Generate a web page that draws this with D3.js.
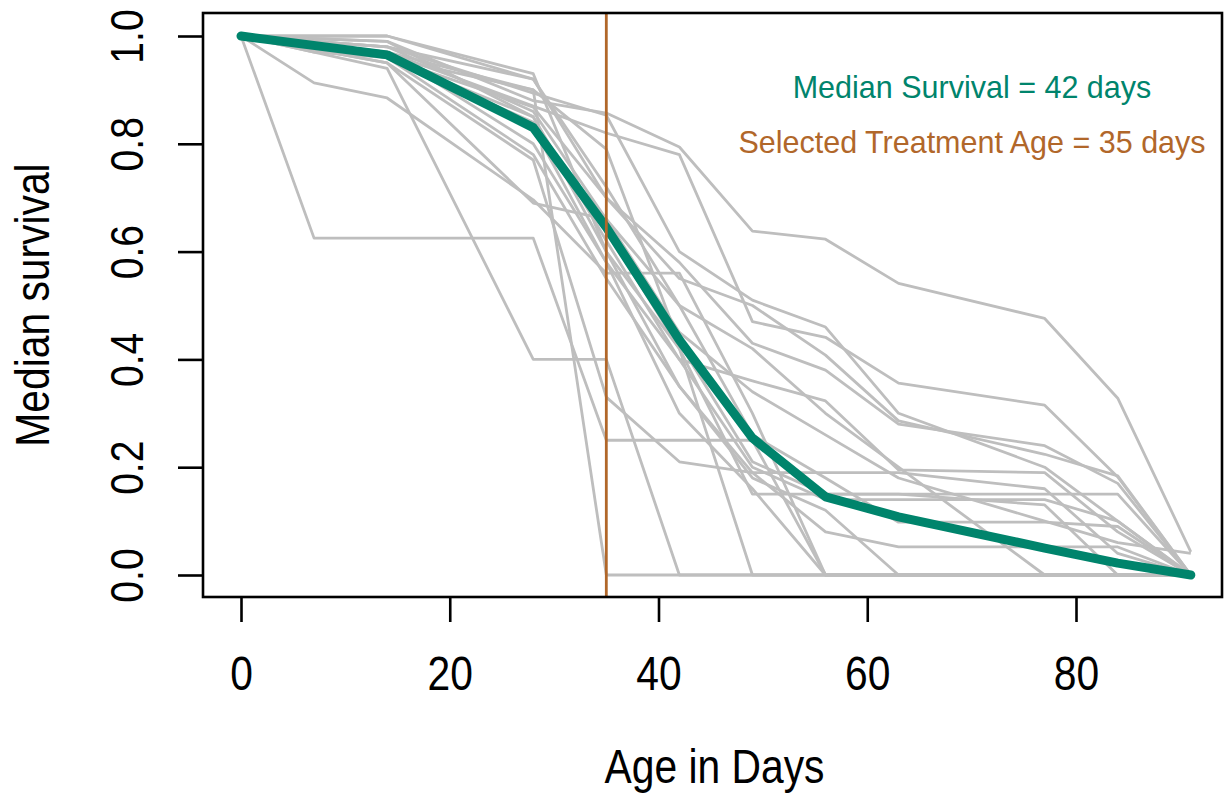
<!DOCTYPE html>
<html>
<head>
<meta charset="utf-8">
<script src="https://cdn.jsdelivr.net/npm/d3@7"></script>
<style>
  html, body { margin: 0; padding: 0; background: #fff; }
  svg { display: block; }
  text { font-family: "Liberation Sans", Arial, Helvetica, sans-serif; }
</style>
</head>
<body>
<svg id="chart" width="1227" height="793"></svg>
<script>
// ---- data ----
const days = [0, 7, 14, 28, 35, 42, 49, 56, 63, 77, 84, 91];

// individual cohort survival curves (null = no observation on that day)
const cohort01 = [1, null, 0.99, 0.88, 0.857, 0.794, 0.638, 0.623, 0.541, 0.476, 0.328, 0.043];
const cohort02 = [1, null, 0.97, 0.87, 0.82, 0.78, 0.47, 0.441, 0.356, 0.315, 0.182, 0];
const cohort03 = [1, null, 0.98, 0.92, 0.70, 0.55, 0.50, 0.408, 0.286, 0.224, 0.184, 0];
const cohort04 = [1, null, 0.96, 0.85, 0.62, 0.40, 0.36, 0.323, 0.195, 0.19, 0.08, 0];
const cohort05 = [1, null, 1.0, 0.93, 0.60, 0.42, 0.15, 0.15, 0.15, 0.15, 0.15, 0];
const cohort06 = [1, null, 0.97, 0.80, 0.58, 0.40, 0.20, 0.14, 0.14, 0.14, 0.10, 0];
const cohort07 = [1, null, 0.96, 0.78, 0.55, 0.35, 0.19, 0.08, 0.052, 0.052, 0.052, 0];
const cohort08 = [1, null, 0.98, 0.86, 0.66, 0.50, 0.26, 0.18, 0.098, 0.098, 0.09, 0];
const cohort09 = [1, 0.625, 0.625, 0.625, 0.25, 0.25, 0.25, 0, 0, 0, 0, 0];
const cohort10 = [1, null, 0.94, 0.40, 0.40, 0, 0, 0, 0, 0, 0, 0];
const cohort11 = [1, 0.913, 0.885, 0.696, 0.56, 0.56, 0.30, 0, 0, 0, 0, 0];
const cohort12 = [1, null, 0.97, 0.90, 0, 0, 0, 0, 0, 0, 0, 0];
const cohort13 = [1, null, 0.95, 0.77, 0.33, 0.21, 0.19, 0.19, 0.19, 0.16, 0.04, 0];
const cohort14 = [1, null, 0.96, 0.84, 0.64, 0.42, 0, 0, 0, 0, 0, 0];
const cohort15 = [1, null, 0.97, 0.83, 0.58, 0.30, 0.16, 0, 0, 0, 0, 0];
const cohort16 = [1, null, 0.99, 0.85, 0.60, 0.35, 0.18, 0.12, 0, 0, 0, 0];
const cohort17 = [1, null, 0.96, 0.90, 0.79, 0.43, 0.21, 0.15, 0.15, 0.13, 0, 0];
const cohort18 = [1, null, 1.0, 0.92, 0.72, 0.50, 0.42, 0.30, 0.20, 0, 0, 0];
const cohort19 = [1, null, 0.98, 0.894, 0.853, 0.60, 0.51, 0.46, 0.30, 0.20, 0.10, 0];
const cohort20 = [1, null, 0.95, 0.69, 0.66, 0.45, 0.34, 0.26, 0.18, 0.10, 0.06, 0.04];
const cohort21 = [1, 0.97, 0.96, 0.868, 0.70, 0.58, 0.43, 0.38, 0.28, 0.24, 0.17, 0];

const cohorts = [cohort01, cohort02, cohort03, cohort04, cohort05, cohort06, cohort07,
  cohort08, cohort09, cohort10, cohort11, cohort12, cohort13, cohort14, cohort15,
  cohort16, cohort17, cohort18, cohort19, cohort20, cohort21];

// median survival curve
const medianCurve = [1, null, 0.965, 0.83, 0.645, 0.436, 0.254, 0.145, 0.108, 0.05, 0.022, 0];

const xTicks = [0, 20, 40, 60, 80];
const yTicks = [0.0, 0.2, 0.4, 0.6, 0.8, 1.0];
const treatmentAge = 35;
const medianLabel = "Median Survival = 42 days";
const treatmentLabel = "Selected Treatment Age = 35 days";
const xTitle = "Age in Days";
const yTitle = "Median survival";

// ---- layout ----
const svg = d3.select("#chart");
const box = { left: 203, right: 1222, top: 13, bottom: 597 };
const x = d3.scaleLinear().domain([0, 80]).range([241, 1076]);
const y = d3.scaleLinear().domain([0, 1]).range([575, 36]);

const grey = "#bebebe";
const green = "#00846c";
const orange = "#b1672a";
const narrow = 0.85;

const toPts = arr => days.map((d, i) => ({ d, v: arr[i] })).filter(p => p.v !== null);
const line = d3.line().x(p => x(p.d)).y(p => y(p.v));

// grey cohort lines
svg.append("g").selectAll("path").data(cohorts).join("path")
  .attr("d", c => line(toPts(c)))
  .attr("fill", "none")
  .attr("stroke", grey)
  .attr("stroke-width", 2.8)
  .attr("stroke-linejoin", "round");

// median curve
svg.append("path")
  .attr("d", line(toPts(medianCurve)))
  .attr("fill", "none")
  .attr("stroke", green)
  .attr("stroke-width", 9)
  .attr("stroke-linejoin", "round")
  .attr("stroke-linecap", "round");

// treatment age line
svg.append("line")
  .attr("x1", x(treatmentAge)).attr("x2", x(treatmentAge))
  .attr("y1", box.top).attr("y2", box.bottom)
  .attr("stroke", orange).attr("stroke-width", 2.8);

// plot box
svg.append("rect")
  .attr("x", box.left).attr("y", box.top)
  .attr("width", box.right - box.left).attr("height", box.bottom - box.top)
  .attr("fill", "none").attr("stroke", "#000").attr("stroke-width", 2.6);

// x axis
const xAxis = d3.axisBottom(x).tickValues(xTicks).tickSize(25).tickPadding(0).tickFormat(d3.format("d"));
const gx = svg.append("g").attr("transform", `translate(0,${box.bottom})`).call(xAxis);
gx.select(".domain").remove();
gx.selectAll(".tick line").attr("stroke", "#000").attr("stroke-width", 2.6);
gx.selectAll(".tick text")
  .attr("y", null).attr("dy", null)
  .attr("font-size", 48).attr("fill", "#000")
  .attr("transform", `translate(0,93) scale(${narrow},1)`);

// y axis
const yAxis = d3.axisLeft(y).tickValues(yTicks).tickSize(25).tickPadding(0).tickFormat(d3.format(".1f"));
const gy = svg.append("g").attr("transform", `translate(${box.left},0)`).call(yAxis);
gy.select(".domain").remove();
gy.selectAll(".tick line").attr("stroke", "#000").attr("stroke-width", 2.6);
gy.selectAll(".tick text")
  .attr("x", null).attr("dy", null).attr("text-anchor", "middle")
  .attr("font-size", 46).attr("fill", "#000")
  .attr("transform", `translate(-60,0) rotate(-90) scale(${narrow},1)`);

// axis titles
svg.append("text")
  .attr("transform", `translate(${(box.left + box.right) / 2 + 2},783) scale(${narrow},1)`)
  .attr("text-anchor", "middle").attr("font-size", 48).attr("fill", "#000")
  .text(xTitle);
svg.append("text")
  .attr("transform", `translate(49,${(box.top + box.bottom) / 2}) rotate(-90) scale(${narrow},1)`)
  .attr("text-anchor", "middle").attr("font-size", 48).attr("fill", "#000")
  .text(yTitle);

// annotations
svg.append("text")
  .attr("x", 972).attr("y", 98).attr("text-anchor", "middle")
  .attr("font-size", 30.5).attr("fill", green).text(medianLabel);
svg.append("text")
  .attr("x", 972).attr("y", 153).attr("text-anchor", "middle")
  .attr("font-size", 30.5).attr("fill", orange).text(treatmentLabel);
</script>
</body>
</html>
